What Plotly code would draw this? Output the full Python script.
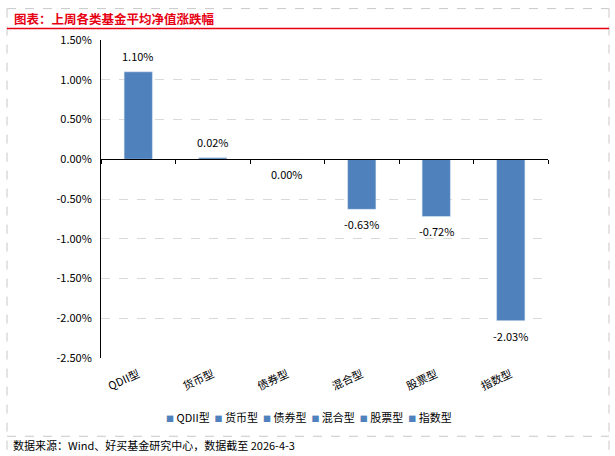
import plotly.graph_objects as go

categories = ["QDII型", "货币型", "债券型", "混合型", "股票型", "指数型"]
values = [1.10, 0.02, 0.00, -0.63, -0.72, -2.03]
label_texts = ["1.10%", "0.02%", "0.00%", "-0.63%", "-0.72%", "-2.03%"]
y_ticks = [1.5, 1.0, 0.5, 0.0, -0.5, -1.0, -1.5, -2.0, -2.5]
y_tick_labels = ["1.50%", "1.00%", "0.50%", "0.00%", "-0.50%", "-1.00%", "-1.50%", "-2.00%", "-2.50%"]
title_text = "图表：上周各类基金平均净值涨跌幅"
source_text = "数据来源：Wind、好买基金研究中心，数据截至 2026-4-3"

FONT = "Noto Sans CJK SC"
BLUE = "#4F81BD"
RED = "#E60012"
W, H = 615, 456
L, R, T, B = 101, 67, 39.5, 97.5
pw, ph = W - L - R, H - T - B

def px_x(x):
    return (x - L) / pw

def px_y(y):
    return (H - B - y) / ph

fig = go.Figure()
for c, v in zip(categories, values):
    fig.add_trace(go.Bar(x=[c], y=[v], name=c, marker_color=BLUE,
                         width=0.38, showlegend=False))

# dummy trace for zero-line axis with boundary ticks
fig.add_trace(go.Scatter(x=[], y=[], xaxis="x2", showlegend=False, hoverinfo="skip"))

annotations = []
for c, v, t in zip(categories, values, label_texts):
    pos = v > 0
    annotations.append(dict(x=c, y=v, xref="x", yref="y", text=t, showarrow=False,
                            yanchor="bottom" if pos else "top",
                            yshift=6 if pos else -5,
                            font=dict(family=FONT, size=11, color="#000000")))

annotations.append(dict(x=px_x(12), y=px_y(18), xref="paper", yref="paper",
                        text="<b>" + title_text + "</b>", showarrow=False,
                        xanchor="left", yanchor="middle",
                        font=dict(family=FONT, size=12.5, color=RED)))
annotations.append(dict(x=px_x(11), y=px_y(446), xref="paper", yref="paper",
                        text=source_text, showarrow=False,
                        xanchor="left", yanchor="middle",
                        font=dict(family=FONT, size=11, color="#000000")))

# legend row (one entry per category, as in the original)
legend_parts = []
for c in categories:
    legend_parts.append('<span style="font-size:8px;fill:%s">■</span> %s' % (BLUE, c))
annotations.append(dict(x=px_x(309), y=px_y(418), xref="paper", yref="paper",
                        text="  ".join(legend_parts), showarrow=False,
                        xanchor="center", yanchor="middle",
                        font=dict(family=FONT, size=11, color="#000000")))

border = dict(color="#C8C8C8", width=1, dash="dash")
shapes = [
    dict(type="line", xref="paper", yref="paper", x0=px_x(7), x1=px_x(609),
         y0=px_y(8), y1=px_y(8), line=border),
    dict(type="line", xref="paper", yref="paper", x0=px_x(7), x1=px_x(7),
         y0=px_y(8), y1=px_y(456), line=border),
    dict(type="line", xref="paper", yref="paper", x0=px_x(609), x1=px_x(609),
         y0=px_y(8), y1=px_y(456), line=border),
    dict(type="line", xref="paper", yref="paper", x0=px_x(7), x1=px_x(609),
         y0=px_y(437), y1=px_y(437), line=border),
    dict(type="line", xref="paper", yref="paper", x0=px_x(7), x1=px_x(609),
         y0=px_y(28), y1=px_y(28), line=dict(color=RED, width=1.5)),
]

zero_pos = (0 - y_ticks[-1]) / (y_ticks[0] - y_ticks[-1])

fig.update_layout(
    width=W, height=H,
    margin=dict(l=L, r=R, t=T, b=B, pad=0),
    paper_bgcolor="white", plot_bgcolor="white",
    barmode="overlay",
    showlegend=False,
    font=dict(family=FONT, size=11, color="#000000"),
    annotations=annotations,
    shapes=shapes,
    xaxis=dict(type="category", categoryorder="array", categoryarray=categories,
               range=[-0.5, 5.5], tickangle=-25, showline=False, showgrid=False,
               ticks="", tickfont=dict(family=FONT, size=11), ticklabelstandoff=7),
    xaxis2=dict(overlaying="x", anchor="free", position=zero_pos, range=[-0.5, 5.5],
                tickvals=[-0.5, 0.5, 1.5, 2.5, 3.5, 4.5, 5.5], ticks="outside",
                ticklen=4, tickcolor="#000000", showticklabels=False,
                showline=True, linecolor="#000000", linewidth=1, showgrid=False,
                zeroline=False),
    yaxis=dict(range=[y_ticks[-1], y_ticks[0]], tickvals=y_ticks, ticktext=y_tick_labels,
               showline=True, linecolor="#000000",
               linewidth=1, showgrid=True, gridcolor="#D9D9D9", griddash="dash",
               zeroline=False, ticks="", ticklabelstandoff=6,
               tickfont=dict(family=FONT, size=11)),
)

fig.write_html("out.html", config={"displayModeBar": False},
               post_script="document.body.style.margin='0';document.body.style.padding='0';")
